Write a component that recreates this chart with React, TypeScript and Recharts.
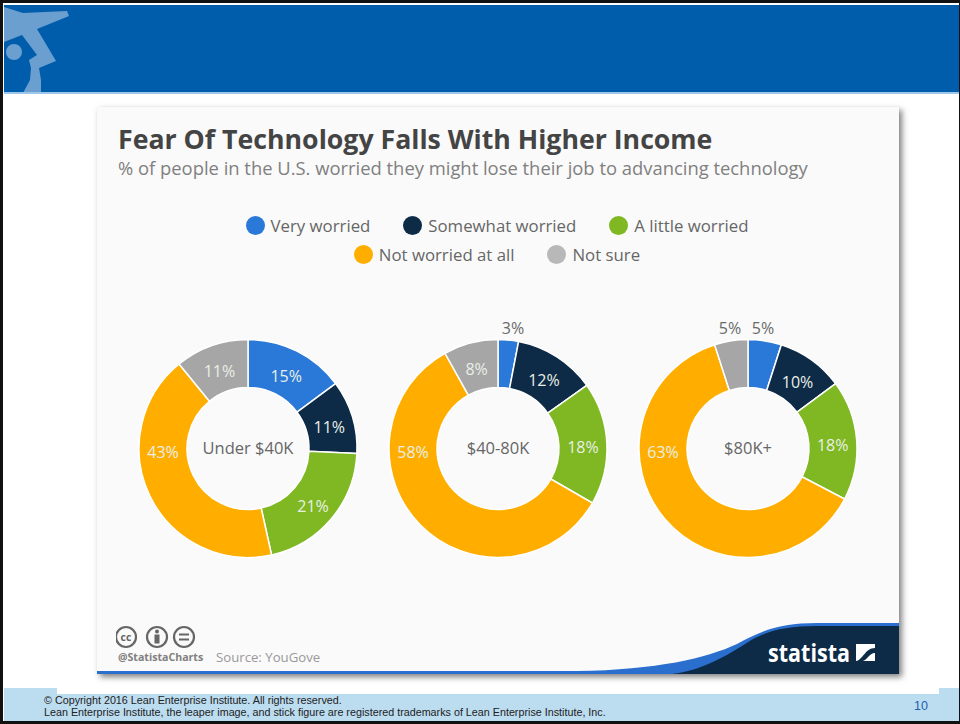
import { PieChart, Pie, Cell, Legend } from "recharts";

const categories = ["Very worried", "Somewhat worried", "A little worried", "Not worried at all", "Not sure"];
const colors = ["#2a78d8", "#0d2a47", "#7fb822", "#ffae00", "#a6a6a6"];
const legendColors = ["#2a78d8", "#0d2a47", "#7fb822", "#ffae00", "#b8b8b8"];

const under40 = [15, 11, 21, 43, 11];
const mid4080 = [3, 12, 18, 58, 8];
const over80 = [5, 10, 18, 63, 5];
const groupNames = ["Under $40K", "$40-80K", "$80K+"];

const toRows = (values: number[]) => categories.map((name, i) => ({ name, value: values[i] }));

const RAD = Math.PI / 180;
const SANS = "'Open Sans', sans-serif";
const LIB = "'Liberation Sans', sans-serif";

const renderLabel = (p: any) => {
  // small slices sit above the ring, the big orange one at 9 o'clock
  const outside = p.value <= 5;
  const angle = p.value >= 40 ? 180 : p.midAngle;
  const r = (p.innerRadius + p.outerRadius) / 2;
  let x = p.cx + r * Math.cos(-angle * RAD);
  let y = p.cy + r * Math.sin(-angle * RAD) + 3;
  if (outside) {
    x = p.cx + (p.midAngle > 0 && p.midAngle < 90 ? 15 : -18);
    y = p.cy - 120.5;
  }
  return (
    <text x={x} y={y} textAnchor="middle" dominantBaseline="central" fontSize={16} fontFamily={SANS}
      fill={outside ? "#6a6a6a" : "#e9efe6"}>
      {p.value}%
    </text>
  );
};

const LegendRows = () => {
  const rows = [categories.slice(0, 3), categories.slice(3)];
  return (
    <div style={{ fontFamily: SANS, fontSize: 16.8, color: "#666" }}>
      {rows.map((row, r) => (
        <div key={r} style={{ display: "flex", justifyContent: "center", height: 29, alignItems: "center" }}>
          {row.map((name) => (
            <span key={name} style={{ display: "flex", alignItems: "center", margin: "0 16.5px" }}>
              <span style={{ width: 19, height: 19, borderRadius: "50%", marginRight: 6, background: legendColors[categories.indexOf(name)] }} />
              {name}
            </span>
          ))}
        </div>
      ))}
    </div>
  );
};

const box = (left: number, top: number, width: number, height: number, background: string): React.CSSProperties => ({
  position: "absolute", left, top, width, height, background,
});

export default function App() {
  const groups = [under40, mid4080, over80];
  const centers = [248, 498, 748];
  return (
    <div style={{ position: "absolute", left: 0, top: 0, width: 960, height: 724, background: "#fff", overflow: "hidden" }}>
      {/* slide header */}
      <div style={box(4, 5, 956, 88, "#005dab")} />
      <svg width={100} height={93} style={{ position: "absolute", left: 0, top: 0 }}>
        <path d="M4 7 L23 13 L67 11 L69 16 L37 29 L56 61 L39 68 L41 80 L41 93 L23 93 L30 80 L31 68 L29 60 L37 55 L22 35 L4 42 Z" fill="#6a9fd0" />
        <circle cx={14} cy={52} r={8} fill="#6a9fd0" />
      </svg>
      <div style={box(4, 92, 956, 1.5, "#9cc7ea")} />

      {/* chart card */}
      <div style={{ ...box(97, 107, 802, 567, "#fafafa"), boxShadow: "3px 3px 6px rgba(0,0,0,0.5)" }} />
      <div style={{ position: "absolute", left: 118, top: 120, fontFamily: SANS, fontWeight: 700, fontSize: 26.7, color: "#444", whiteSpace: "nowrap" }}>
        Fear Of Technology Falls With Higher Income
      </div>
      <div style={{ position: "absolute", left: 118, top: 155, fontFamily: SANS, fontSize: 18.4, color: "#808080", whiteSpace: "nowrap" }}>
        % of people in the U.S. worried they might lose their job to advancing technology
      </div>

      <PieChart width={960} height={724} margin={{ top: 0, right: 0, bottom: 0, left: 0 }} style={{ position: "absolute", left: 0, top: 0 }}>
        <Legend
          content={<LegendRows />}
          wrapperStyle={{ position: "absolute", left: 96, top: 211, width: 802 }}
        />
        {groups.map((values, g) => (
          <Pie
            key={groupNames[g]}
            data={toRows(values)}
            dataKey="value"
            cx={centers[g]}
            cy={448.5}
            innerRadius={61}
            outerRadius={109}
            startAngle={90}
            endAngle={-270}
            stroke="#fff"
            strokeWidth={1.5}
            label={renderLabel}
            labelLine={false}
            isAnimationActive={false}
          >
            {values.map((_, i) => (
              <Cell key={i} fill={colors[i]} />
            ))}
          </Pie>
        ))}
        {groupNames.map((name, g) => (
          <text key={name} x={centers[g]} y={447.5} textAnchor="middle" dominantBaseline="central" fontSize={16.5} fontFamily={SANS} fill="#666">
            {name}
          </text>
        ))}
      </PieChart>

      {/* source block */}
      <svg width={84} height={26} style={{ position: "absolute", left: 116, top: 624 }}>
        {[10, 41, 68].map((cx) => (
          <circle key={cx} cx={cx} cy={13} r={10} fill="none" stroke="#666" strokeWidth={2.2} />
        ))}
        <text x={10} y={16.5} textAnchor="middle" fontSize={10.5} fontWeight={700} fontFamily={SANS} fill="#666">cc</text>
        <circle cx={41} cy={7.5} r={2} fill="#666" />
        <rect x={38.5} y={10.5} width={5} height={9} fill="#666" />
        <rect x={63} y={9.5} width={10} height={2} fill="#666" />
        <rect x={63} y={14.5} width={10} height={2} fill="#666" />
      </svg>
      <div style={{ position: "absolute", left: 118, top: 650, fontFamily: SANS, fontWeight: 700, fontSize: 10.6, color: "#808080", whiteSpace: "nowrap" }}>
        @StatistaCharts
      </div>
      <div style={{ position: "absolute", left: 216, top: 648, fontFamily: SANS, fontSize: 13.2, color: "#999", whiteSpace: "nowrap" }}>
        Source: YouGove
      </div>

      {/* statista corner */}
      <svg width={802} height={54} style={{ position: "absolute", left: 97, top: 620 }}>
        <path d="M0 51 L480 51 C560 50 610 38 640 24 C665 10 685 3 720 3 L802 3 L802 54 L0 54 Z" fill="#2a6fce" />
        <path d="M575 54 C605 50 625 38 645 26 C665 12 685 6 720 6 L802 6 L802 54 Z" fill="#0d2a47" />
        <text x={671} y={42} fontFamily={SANS} fontWeight={700} fontSize={25} fill="#fff" textLength={82} lengthAdjust="spacingAndGlyphs">statista</text>
        <rect x={759} y={24} width={19} height={17} fill="#fff" />
        <path d="M759 41 C766 40 768 28 778 28 V33 C772 33 770 41 765 41 Z" fill="#0d2a47" />
      </svg>

      {/* slide footer */}
      <div style={box(4, 694, 956, 27, "#bcdcf0")} />
      <div style={box(4, 688, 53, 6, "#bcdcf0")} />
      <div style={box(939, 688, 21, 6, "#bcdcf0")} />
      <div style={{ position: "absolute", left: 44, top: 695, fontFamily: LIB, fontSize: 10.75, lineHeight: "11.5px", color: "#222", whiteSpace: "nowrap" }}>
        © Copyright 2016 Lean Enterprise Institute. All rights reserved.
        <br />
        Lean Enterprise Institute, the leaper image, and stick figure are registered trademarks of Lean Enterprise Institute, Inc.
      </div>
      <div style={{ position: "absolute", left: 914, top: 699, fontFamily: LIB, fontSize: 12.5, color: "#1f5fae" }}>
        10
      </div>

      {/* slide frame */}
      <div style={{ position: "absolute", left: 0, top: 0, width: 960, height: 724, boxSizing: "border-box", borderStyle: "solid", borderColor: "#111", borderWidth: "3px 1px 3px 3px", pointerEvents: "none" }} />
    </div>
  );
}
